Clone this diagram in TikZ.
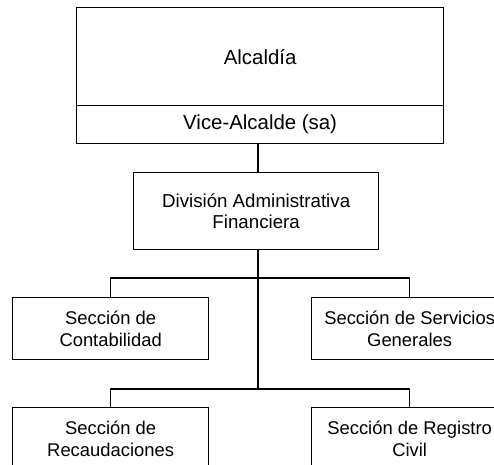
\documentclass[tikz,border=0pt]{standalone}
\usepackage{fontspec}
\setmainfont{Liberation Sans}
\begin{document}
\begin{tikzpicture}[x=0.5pt,y=-0.5pt,
  headfont/.style={font=\fontsize{10.2}{11.5}\selectfont},
  divfont/.style={font=\fontsize{9.35}{10.6}\selectfont},
  secfont/.style={font=\fontsize{9.2}{11}\selectfont},
  unit/.style={draw=black, line width=0.65pt, inner sep=0pt, anchor=north west,
    align=center},
  topbox/.style={unit, headfont, minimum width=183.5pt, minimum height=49pt},
  vicebox/.style={unit, headfont, minimum width=183.5pt, minimum height=19pt},
  divbox/.style={unit, divfont, minimum width=122.5pt, minimum height=38.5pt},
  secbox/.style={unit, secfont, minimum width=98pt, minimum height=31pt},
  link/.style={draw=black, line width=0.65pt}]
\useasboundingbox (0,0) rectangle (494,465);
\clip (0,0) rectangle (494,465);

% head office
\node[topbox]  (alc)  at (76,7)   {Alcaldía};
\node[vicebox] (vice) at (76,105) {Vice-Alcalde (sa)};

% division
\node[divbox] (div) at (133,172) {División Administrativa\\Financiera};

% sections
\node[secbox] (cont) at (12,297)  {Sección de\\Contabilidad};
\node[secbox] (serv) at (311,297) {Sección de Servicios\\Generales};
\node[secbox] (reca) at (12,407)  {Sección de\\Recaudaciones};
\node[secbox] (regi) at (311,407) {Sección de Registro\\Civil};

% connector geometry
\coordinate (spine) at (258,0);
\coordinate (bus1)  at (258,278);
\coordinate (bus2)  at (258,389);

% connectors
\draw[link] (vice.south -| spine) -- (div.north -| spine);
\draw[link] (div.south -| spine) -- (bus2);
\draw[link] (cont.north) |- (bus1) -| (serv.north);
\draw[link] (reca.north) |- (bus2) -| (regi.north);
\end{tikzpicture}
\end{document}
